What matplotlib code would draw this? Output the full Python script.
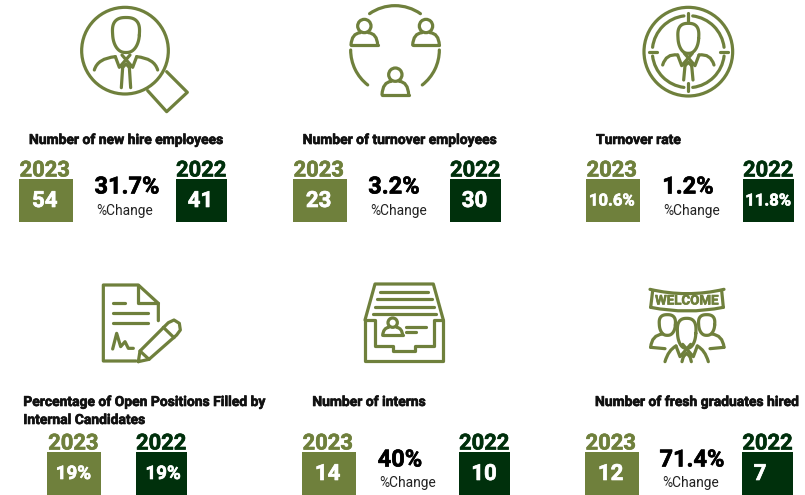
"""KPI tiles for hiring and turnover, drawn on one pixel-sized axes."""
import numpy as np
import matplotlib
matplotlib.use("Agg")
import matplotlib.pyplot as plt
import matplotlib.patheffects as pe
from matplotlib.patches import Circle, Rectangle, Arc, PathPatch
from matplotlib.path import Path

plt.rcParams["font.family"] = ["Roboto", "DejaVu Sans"]

W, H = 805, 495
OLIVE = "#6f803c"
DARK = "#00300c"
LW = 2.3

titles = ["Number of new hire employees", "Number of turnover employees", "Turnover rate",
          "Percentage of Open Positions Filled by\nInternal Candidates", "Number of interns",
          "Number of fresh graduates hired"]
years = ["2023", "2022"]
values_2023 = ["54", "23", "10.6%", "19%", "14", "12"]
values_2022 = ["41", "30", "11.8%", "19%", "10", "7"]
changes = ["31.7%", "3.2%", "1.2%", None, "40%", "71.4%"]
change_label = "%Change"

# layout, in pixels of the 805x495 picture
box_2023_x = [18.7, 292.7, 585.7, 47.3, 301.7, 584.7]
box_2022_x = [175.7, 449.7, 742.7, 135.7, 458.7, 742.0]
box_2022_text_x = [200.5, 474.5, 768, 163, 484, 760]
title_x = [29, 302.7, 596, 23.3, 312.3, 595]
change_x = [127, 394, 688, None, 400, 692]
label_x = [125, 399, 692, None, 408, 691]

fig = plt.figure(figsize=(W / 100, H / 100), dpi=100)
ax = fig.add_axes([0, 0, 1, 1])
ax.set_xlim(0, W)
ax.set_ylim(H, 0)
ax.axis("off")


def bold(x, y, text, color, size, ha="center"):
    # a thin stroke brings Roboto Bold close to the heavier face of the original
    ax.text(x, y, text, color=color, fontsize=size, fontweight="bold", ha=ha, va="center",
            path_effects=[pe.withStroke(linewidth=0.45, foreground=color)])


def line(ox, oy, pts, closed=False):
    xs = [ox + p[0] / 3 for p in pts]
    ys = [oy + p[1] / 3 for p in pts]
    if closed:
        xs.append(xs[0])
        ys.append(ys[0])
    ax.plot(xs, ys, color=OLIVE, lw=LW, solid_capstyle="round", solid_joinstyle="round")


def curve(ox, oy, p0, c, p1):
    verts = [(ox + p[0] / 3, oy + p[1] / 3) for p in (p0, c, p1)]
    ax.add_patch(PathPatch(Path(verts, [Path.MOVETO, Path.CURVE3, Path.CURVE3]), fill=False,
                           edgecolor=OLIVE, lw=LW, capstyle="round"))


def circle(ox, oy, c, r, lw=LW):
    ax.add_patch(Circle((ox + c[0] / 3, oy + c[1] / 3), r / 3, fill=False, edgecolor=OLIVE, lw=lw))


def arc(ox, oy, c, r, a0, a1):
    # the y axis is flipped, angles run clockwise on screen
    ax.add_patch(Arc((ox + c[0] / 3, oy + c[1] / 3), 2 * r / 3, 2 * r / 3, theta1=a0, theta2=a1,
                     edgecolor=OLIVE, lw=LW, capstyle="round"))


def head(ox, oy, c, w, h):
    t = np.linspace(0, 2 * np.pi, 80)
    # egg shape, wider towards the top of the head
    xs = c[0] + w / 2 * np.sign(np.cos(t)) * np.abs(np.cos(t)) ** 0.8 * (1 - 0.16 * np.sin(t))
    ys = c[1] + h / 2 * np.sign(np.sin(t)) * np.abs(np.sin(t)) ** 0.8
    line(ox, oy, list(zip(xs, ys)))


def bust(ox, oy, cx, top, sw, shoulder_y, tie_end):
    # collar, knot and tie below a head, mirrored around cx
    for s in (-1, 1):
        curve(ox, oy, (cx + s * sw, shoulder_y), (cx + s * (sw - 10), shoulder_y - 35), (cx + s * 32, top))
        line(ox, oy, [(cx + s * 32, top), (cx + s * 20, top + 32), (cx - s * 12, top - 5)])
        line(ox, oy, [(cx + s * 10, top + 32), (cx + s * 14, tie_end)])
    line(ox, oy, [(cx - 10, top + 32), (cx, top + 22), (cx + 10, top + 32)])


def person_small(ox, oy, cx, head_y, base_y, head_r=20, half=40):
    circle(ox, oy, (cx, head_y), head_r)
    line(ox, oy, [(cx - half, base_y), (cx + half, base_y)])
    curve(ox, oy, (cx - half, base_y), (cx - half + 2, head_y + head_r + 2), (cx - 12, head_y + head_r))
    curve(ox, oy, (cx + half, base_y), (cx + half - 2, head_y + head_r + 2), (cx + 12, head_y + head_r))


def icon_search(ox, oy):
    circle(ox, oy, (375, 152), 130)
    line(ox, oy, [(500, 215), (562, 277), (500, 335), (443, 272)])
    head(ox, oy, (378, 105), 80, 105)
    bust(ox, oy, 378, 170, 95, 210, 263)


def icon_circle(ox, oy):
    arc(ox, oy, (345, 150), 133, 235, 305)
    arc(ox, oy, (345, 150), 133, 0, 52)
    arc(ox, oy, (345, 150), 133, 128, 180)
    person_small(ox, oy, 253, 78, 135)
    person_small(ox, oy, 438, 78, 135)
    person_small(ox, oy, 346, 224, 284)


def icon_target(ox, oy):
    circle(ox, oy, (385, 155), 133)
    for a0 in (0, 90, 180, 270):
        arc(ox, oy, (385, 155), 108, a0 + 7, a0 + 83)
    line(ox, oy, [(385, 38), (385, 62)])
    line(ox, oy, [(385, 248), (385, 272)])
    line(ox, oy, [(268, 155), (292, 155)])
    line(ox, oy, [(480, 155), (505, 155)])
    head(ox, oy, (385, 115), 62, 90)
    bust(ox, oy, 385, 165, 77, 195, 240)


def icon_document(ox, oy):
    line(ox, oy, [(408, 273), (310, 273), (310, 45), (415, 45), (475, 100), (475, 152)])
    line(ox, oy, [(415, 45), (415, 100), (475, 100)])
    line(ox, oy, [(338, 100), (375, 100)])
    line(ox, oy, [(338, 130), (445, 130)])
    line(ox, oy, [(338, 160), (445, 160)])
    line(ox, oy, [(338, 237), (350, 190), (362, 230), (375, 215), (385, 235), (400, 235)])
    line(ox, oy, [(415, 275), (420, 243), (505, 158), (522, 150), (538, 160), (541, 180),
                  (530, 195), (447, 268)], closed=True)
    line(ox, oy, [(490, 172), (522, 203)])
    line(ox, oy, [(420, 243), (447, 268)])


def icon_tray(ox, oy):
    line(ox, oy, [(255, 150), (285, 42), (460, 42), (490, 150)])
    line(ox, oy, [(255, 150), (255, 272), (490, 272), (490, 150), (462, 150), (462, 228), (405, 228),
                  (405, 243), (340, 243), (340, 228), (285, 228), (285, 150), (255, 150)])
    line(ox, oy, [(300, 65), (445, 65)])
    line(ox, oy, [(292, 88), (455, 88)])
    line(ox, oy, [(285, 110), (462, 110)])
    line(ox, oy, [(278, 132), (468, 132)])
    person_small(ox, oy, 338, 158, 196, head_r=14, half=30)
    line(ox, oy, [(378, 172), (438, 172)])
    line(ox, oy, [(378, 187), (408, 187)])


def icon_welcome(ox, oy):
    curve(ox, oy, (270, 58), (381, 84), (492, 58))
    curve(ox, oy, (272, 112), (381, 134), (490, 112))
    line(ox, oy, [(278, 62), (272, 112)])
    line(ox, oy, [(485, 62), (490, 112)])
    bold(ox + 381 / 3, oy + 93 / 3, "WELCOME", OLIVE, 9.6)
    head(ox, oy, (380, 190), 55, 90)
    bust(ox, oy, 380, 228, 65, 275, 275)
    head(ox, oy, (322, 165), 48, 62)
    head(ox, oy, (440, 165), 48, 62)
    curve(ox, oy, (272, 232), (275, 195), (308, 192))
    curve(ox, oy, (492, 232), (488, 195), (455, 192))
    line(ox, oy, [(272, 232), (315, 236)])
    line(ox, oy, [(492, 232), (450, 236)])


icon_search(0, 0)
icon_circle(280, 0)
icon_target(560, 0)
icon_document(0, 270)
icon_tray(280, 270)
icon_welcome(560, 270)

for i, title in enumerate(titles):
    top_row = i < 3
    box_top, box_h = (179, 42.7) if top_row else (452, 43)
    year_y = box_top - 8.5
    value_y = box_top + 22
    small = "." in values_2023[i]
    vsize = 12 if small else (13.5 if "%" in values_2023[i] else 16)
    ax.add_patch(Rectangle((box_2023_x[i], box_top), 54, box_h, color=OLIVE, lw=0))
    ax.add_patch(Rectangle((box_2022_x[i], box_top), 51, box_h, color=DARK, lw=0))
    bold(box_2023_x[i] + 26, year_y, years[0], OLIVE, 15.8)
    bold(box_2022_x[i] + 25.5, year_y, years[1], DARK, 15.8)
    bold(box_2023_x[i] + 26, value_y, values_2023[i], "white", vsize)
    bold(box_2022_text_x[i], value_y, values_2022[i], "white", vsize)
    if top_row:
        bold(title_x[i], 140, title, "#111111", 10, ha="left")
    elif "\n" in title:
        first, second = title.split("\n")
        bold(title_x[i], 402, first, "#111111", 10, ha="left")
        bold(title_x[i], 420, second, "#111111", 10, ha="left")
    else:
        bold(title_x[i], 402, title, "#111111", 10, ha="left")
    if changes[i]:
        bold(change_x[i], box_top + 8, changes[i], "black", 17)
        ax.text(label_x[i], box_top + 31.5, change_label, color="#222222", fontsize=9.9,
                ha="center", va="center")

fig.savefig("out.png", dpi=100)
